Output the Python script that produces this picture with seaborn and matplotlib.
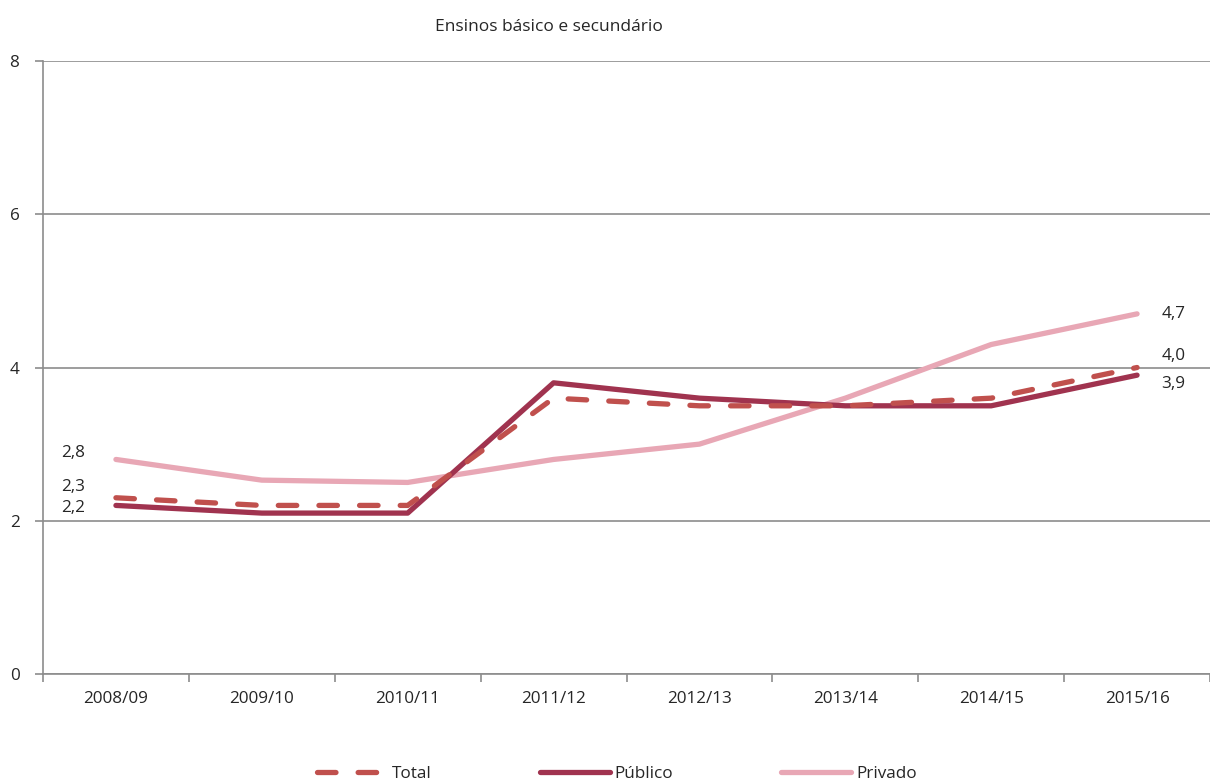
import numpy as np
import pandas as pd
import matplotlib
matplotlib.use("Agg")
import matplotlib.pyplot as plt
import seaborn as sns

years = ["2008/09", "2009/10", "2010/11", "2011/12", "2012/13", "2013/14", "2014/15", "2015/16"]
total = [2.3, 2.2, 2.2, 3.6, 3.5, 3.5, 3.6, 4.0]
publico = [2.2, 2.1, 2.1, 3.8, 3.6, 3.5, 3.5, 3.9]
privado = [2.8, 2.53, 2.5, 2.8, 3.0, 3.6, 4.3, 4.7]

sns.set_style("white")
plt.rcParams['font.family'] = ['Open Sans', 'DejaVu Sans']

grid_col = "#8c8c8c"
col_total = "#C0504D"
col_pub = "#A0334F"
col_priv = "#E8A7B5"
fs = 12.3

fig = plt.figure(figsize=(12.1, 7.83), dpi=100)
ax = fig.add_axes([43 / 1210, 109 / 783, 1 - 43 / 1210, 613 / 783])

x = np.arange(len(years))
df = pd.DataFrame({"x": x, "Total": total, "Público": publico, "Privado": privado})

sns.lineplot(data=df, x="x", y="Privado", ax=ax, color=col_priv, lw=3.8,
             label="Privado", solid_capstyle="round", zorder=3)
sns.lineplot(data=df, x="x", y="Público", ax=ax, color=col_pub, lw=3.8,
             label="Público", solid_capstyle="round", zorder=4)
sns.lineplot(data=df, x="x", y="Total", ax=ax, color=col_total, lw=3.8,
             label="Total", dash_capstyle="round", zorder=5)
ax.lines[-1].set_dashes((3.5, 4.2))

ax.set_xlim(-0.5, -0.5 + (1210 - 43) / 147)
ax.set_ylim(0, 8)
ax.set_yticks([0, 2, 4, 6, 8])
ax.yaxis.grid(True, color=grid_col, lw=1.2)
ax.set_axisbelow(True)
ax.set_xticks(x)
ax.set_xticklabels(years)
ax.set_xticks(np.arange(-0.5, 8, 1), minor=True)
ax.tick_params(axis="x", which="major", bottom=True, length=0, pad=12, labelsize=fs)
ax.tick_params(axis="x", which="minor", bottom=True, length=6, color=grid_col, width=1.2)
ax.tick_params(axis="y", left=True, length=6, color=grid_col, width=1.2, labelsize=fs, pad=11)
ax.set_xlabel("")
ax.set_ylabel("")
for s in ["top", "right"]:
    ax.spines[s].set_visible(False)
for s in ["left", "bottom"]:
    ax.spines[s].set_color(grid_col)
    ax.spines[s].set_linewidth(1.2)

# data labels at ends
fmt = lambda v: f"{v:.1f}".replace(".", ",")
left_labels = [(privado[0], 5), (total[0], 8), (publico[0], -1.5)]
for v, dy in left_labels:
    ax.annotate(fmt(v), (0, v), xytext=(-31, dy), textcoords="offset points",
                fontsize=fs, va="center", ha="center")
right_labels = [(privado[-1], 0), (total[-1], 8.5), (publico[-1], -6.5)]
for v, dy in right_labels:
    ax.annotate(fmt(v), (7, v), xytext=(26, dy), textcoords="offset points",
                fontsize=fs, va="center", ha="center")

fig.text(549 / 1210, 1 - 27 / 783, "Ensinos básico e secundário", ha="center", va="center",
         fontsize=12.5)

h, l = ax.get_legend_handles_labels()
order = [l.index("Total"), l.index("Público"), l.index("Privado")]
leg = ax.legend([h[i] for i in order], [l[i] for i in order], loc="center",
                bbox_to_anchor=(617 / 1210, 1 - 774 / 783), bbox_transform=fig.transFigure,
                ncol=3, frameon=False, fontsize=fs, handlelength=4.1, columnspacing=6.3,
                handletextpad=0.3, borderpad=0)

fig.savefig("out.png", dpi=100)
